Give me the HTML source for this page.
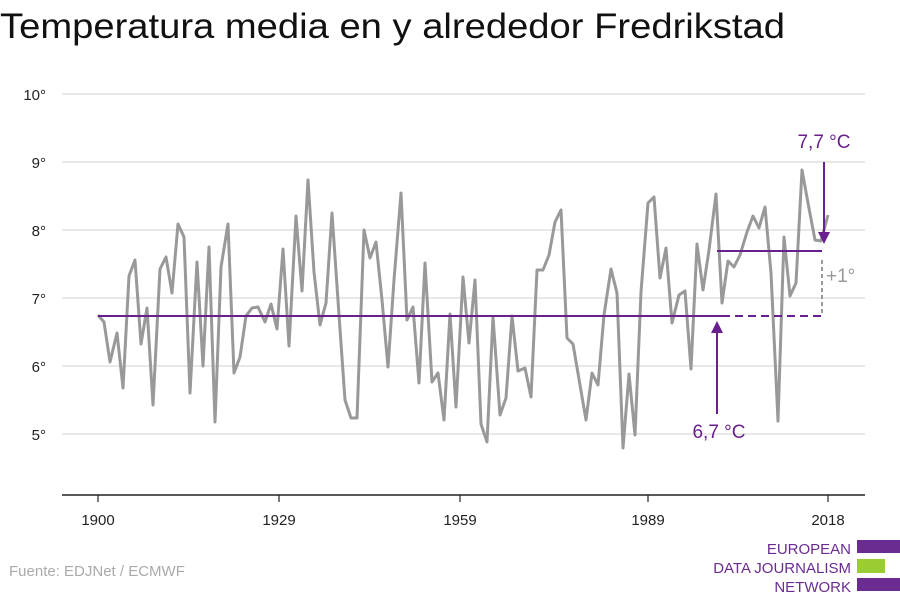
<!DOCTYPE html>
<html><head><meta charset="utf-8"><style>
body{margin:0;width:900px;height:600px;background:#fff;overflow:hidden;font-family:"Liberation Sans",sans-serif}
</style></head><body>
<svg width="900" height="600" xmlns="http://www.w3.org/2000/svg" font-family="Liberation Sans, sans-serif">
<text x="0" y="38" font-size="35" fill="#111" textLength="785" lengthAdjust="spacingAndGlyphs">Temperatura media en y alrededor Fredrikstad</text>
<g stroke="#e0e0e0" stroke-width="1.5">
<line x1="62" y1="94" x2="865" y2="94"/><line x1="62" y1="162" x2="865" y2="162"/><line x1="62" y1="230" x2="865" y2="230"/><line x1="62" y1="298" x2="865" y2="298"/><line x1="62" y1="366" x2="865" y2="366"/><line x1="62" y1="434" x2="865" y2="434"/>
</g>
<g font-size="15" fill="#222" text-anchor="end">
<text x="46" y="100">10°</text><text x="46" y="168">9°</text><text x="46" y="236">8°</text><text x="46" y="304">7°</text><text x="46" y="372">6°</text><text x="46" y="440">5°</text>
</g>
<line x1="62" y1="495" x2="865" y2="495" stroke="#222" stroke-width="1.5"/>
<g stroke="#222" stroke-width="1.2"><line x1="98" y1="495" x2="98" y2="502"/><line x1="279" y1="495" x2="279" y2="502"/><line x1="460" y1="495" x2="460" y2="502"/><line x1="648" y1="495" x2="648" y2="502"/><line x1="828" y1="495" x2="828" y2="502"/></g>
<g font-size="15" fill="#222" text-anchor="middle">
<text x="98" y="525">1900</text><text x="279" y="525">1929</text><text x="460" y="525">1959</text><text x="648" y="525">1989</text><text x="828" y="525">2018</text>
</g>
<polyline fill="none" stroke="#999" stroke-width="3" stroke-linejoin="round" points="98,315 104,322 110,362 117,333 123,388 129,276 135,260 141,344 147,308 153,405 160,269 166,257 172,293 178,224 184,237 190,393 197,262 203,366 209,247 215,422 221,267 228,224 234,373 240,357 246,316 252,308 258,307 265,322 271,304 277,329 283,249 289,346 296,216 302,291 308,180 314,272 320,325 326,303 332,213 339,315 345,400 351,418 357,418 364,230 370,258 376,242 382,300 388,367 394,280 401,193 407,320 413,307 419,383 425,263 432,382 438,373 444,420 450,314 456,407 463,277 469,343 475,280 481,424 487,442 493,317 500,415 506,398 512,316 518,371 525,368 531,397 537,270 543,270 549,255 555,222 561,210 567,338 573,344 580,385 586,420 592,373 598,385 604,315 611,269 617,293 623,448 629,374 635,435 641,292 648,203 654,197 660,278 666,248 672,323 679,295 685,291 691,369 697,244 703,290 709,250 716,194 722,303 728,261 734,267 740,255 747,232 753,216 759,228 765,207 771,273 778,421 784,237 790,296 796,283 802,170 808,203 815,240 821,241 828,215"/>
<line x1="98" y1="316" x2="722" y2="316" stroke="#6a1f8f" stroke-width="2"/>
<line x1="722" y1="316" x2="822" y2="316" stroke="#6a1f8f" stroke-width="2" stroke-dasharray="8,5"/>
<line x1="717" y1="251" x2="822" y2="251" stroke="#6a1f8f" stroke-width="2"/>
<line x1="822" y1="260" x2="822" y2="314" stroke="#999" stroke-width="2" stroke-dasharray="4,3"/>
<text x="826" y="282" font-size="19" fill="#999">+1°</text>
<line x1="717" y1="414" x2="717" y2="332" stroke="#6a1f8f" stroke-width="2"/>
<polygon points="711,333 723,333 717,321" fill="#6a1f8f"/>
<line x1="824" y1="162" x2="824" y2="233" stroke="#6a1f8f" stroke-width="2"/>
<polygon points="818,232 830,232 824,244" fill="#6a1f8f"/>
<text x="719" y="438" font-size="19" fill="#6a1f8f" text-anchor="middle">6,7 °C</text>
<text x="824" y="148" font-size="19" fill="#6a1f8f" text-anchor="middle">7,7 °C</text>
<text x="9" y="576" font-size="15" fill="#aaa">Fuente: EDJNet / ECMWF</text>
<g font-size="15" fill="#6a2c91" text-anchor="end">
<text x="851" y="554">EUROPEAN</text><text x="851" y="573">DATA JOURNALISM</text><text x="851" y="592">NETWORK</text>
</g>
<rect x="857" y="540" width="43" height="13" fill="#6a2c91"/>
<rect x="857" y="559" width="28" height="14" fill="#9acd32"/>
<rect x="857" y="578" width="43" height="13" fill="#6a2c91"/>
</svg>
</body></html>
